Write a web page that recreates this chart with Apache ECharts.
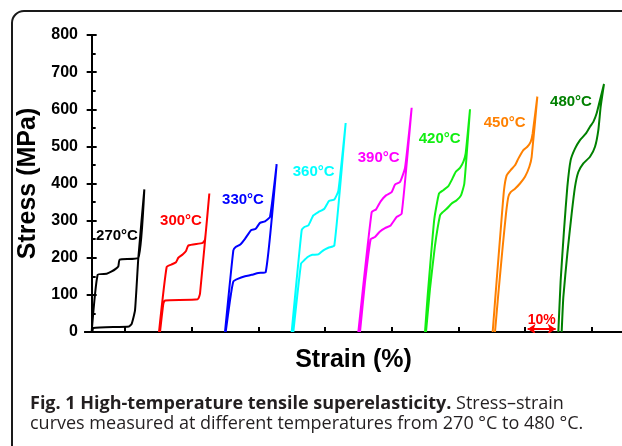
<!DOCTYPE html>
<html>
<head>
<meta charset="utf-8">
<script src="https://cdn.jsdelivr.net/npm/echarts@6.0.0/dist/echarts.min.js"></script>
<style>
  html, body { margin: 0; background: #fff; }
  #chart { width: 622px; height: 446px; }
</style>
</head>
<body>
<div id="chart"></div>
<script>
// temperatures, one loop each; loops are shifted 20 % apart along strain
const temps = ['270°C', '300°C', '330°C', '360°C', '390°C', '420°C', '450°C', '480°C']
const shifts = [0, 20, 40, 60, 80, 100, 120, 140]

// [strain %, stress MPa] relative to the start of each loop
const loading = [
  [[0, 0], [1.8, 154], [4.5, 157], [6.0, 163], [7.2, 170], [8.0, 177], [8.4, 195], [14.0, 200], [15.8, 384]],
  [[0.2, 0], [2.5, 175], [4.0, 182], [5.3, 188], [6.0, 200], [7.3, 209], [8.3, 218], [9.0, 233], [13.3, 240], [14.0, 249], [15.3, 373]],
  [[0, 0], [2.5, 220], [3.2, 229], [4.5, 235], [6.0, 251], [7.8, 274], [9.2, 278], [10.5, 294], [12.0, 298], [13.5, 310], [15.5, 452]],
  [[0, 0], [3.0, 274], [3.8, 283], [5.0, 287], [6.5, 314], [8.0, 323], [9.8, 332], [11.2, 353], [12.8, 357], [14.0, 380], [16.2, 563]],
  [[0, 0], [4.0, 323], [5.3, 330], [6.7, 352], [8.3, 368], [10.0, 377], [11.0, 397], [12.5, 404], [14.0, 442], [16.0, 604]],
  [[0, 0], [0.8, 98], [1.8, 206], [2.8, 305], [4.2, 373], [5.5, 382], [7.0, 393], [8.0, 409], [9.2, 431], [10.5, 442], [11.5, 458], [12.2, 481], [13.5, 600]],
  [[0.3, 0], [1.5, 139], [2.7, 274], [3.7, 382], [4.5, 422], [5.7, 436], [7.0, 449], [8.0, 467], [9.5, 490], [10.7, 499], [11.7, 512], [12.3, 535], [13.7, 634]],
  [[0, 0], [0.7, 139], [1.7, 274], [2.7, 391], [3.7, 463], [5.0, 494], [6.5, 517], [8.3, 535], [9.5, 553], [10.5, 566], [11.5, 589], [12.5, 625], [13.7, 668]]
]
const unloading = [
  [[14.0, 200], [13.0, 58], [12.0, 22], [11.2, 15], [0.5, 11], [0.2, 0]],
  [[12.5, 103], [11.8, 88], [2.0, 85], [1.5, 76], [0.5, 0]],
  [[12.2, 161], [10.0, 159], [8.0, 154], [6.0, 150], [4.0, 144], [2.5, 136], [1.5, 85], [0.2, 0]],
  [[12.8, 233], [11.0, 227], [9.5, 220], [8.0, 209], [6.2, 208], [4.8, 202], [3.5, 191], [2.8, 184], [0.5, 0]],
  [[13.0, 319], [11.5, 310], [9.7, 287], [8.0, 280], [6.5, 271], [5.0, 256], [3.7, 250], [2.0, 134], [0.5, 0]],
  [[11.8, 400], [10.8, 368], [9.5, 355], [8.0, 346], [6.5, 332], [5.2, 322], [4.5, 314], [3.0, 233], [1.5, 117], [0.3, 0]],
  [[12.0, 472], [11.3, 445], [10.0, 418], [8.5, 400], [7.0, 386], [5.7, 377], [5.0, 364], [4.3, 319], [3.3, 229], [2.0, 103], [1.0, 0]],
  [[12.7, 607], [12.0, 544], [11.0, 499], [9.5, 472], [7.5, 454], [6.0, 431], [5.0, 391], [4.0, 319], [2.7, 211], [1.5, 94], [1.0, 0]]
]

const yTicks = [0, 100, 200, 300, 400, 500, 600, 700, 800]
const xTicks = [10, 30, 50, 70, 90, 110, 130, 150]
const scaleBar = [130, 140] // the "10%" marker

const colors = ['#000000', '#ff0000', '#0000ff', '#00ffff', '#ff00ff', '#11ee11', '#ff8000', '#008000']
// where each temperature label sits, relative to its loop
const labelAt = [[7.6, 260], [6.8, 300], [5.4, 355], [6.6, 431], [6.1, 469], [4.4, 521], [3.9, 563], [3.8, 620]]

const FONT = '"Liberation Sans", Arial, sans-serif'

const loopSeries = temps.map((t, i) => {
  const pts = loading[i].concat(unloading[i]).map(([s, v]) => [s + shifts[i], v])
  return {
    name: t,
    type: 'line',
    data: pts,
    showSymbol: false,
    smooth: 0.15,
    lineStyle: { color: colors[i], width: 2 },
    itemStyle: { color: colors[i] },
    markPoint: {
      symbol: 'rect',
      symbolSize: 1,
      itemStyle: { color: 'rgba(0,0,0,0)' },
      label: {
        show: true,
        position: 'inside',
        formatter: t,
        color: colors[i],
        fontFamily: FONT,
        fontWeight: 'bold',
        fontSize: 15
      },
      data: [{ coord: [labelAt[i][0] + shifts[i], labelAt[i][1]] }]
    }
  }
})

const chart = echarts.init(document.getElementById('chart'))
chart.setOption({
  animation: false,
  backgroundColor: '#fff',
  grid: { left: 85, right: 0, top: 35, bottom: 114 },
  xAxis: [
    {
      type: 'value',
      min: -2,
      max: 159.1,
      name: 'Strain (%)',
      nameLocation: 'middle',
      nameGap: 16,
      nameTextStyle: { fontFamily: FONT, fontWeight: 'bold', fontSize: 25, color: '#000' },
      axisLine: { show: true, lineStyle: { color: '#000', width: 2 } },
      axisTick: { show: true, inside: true, length: 5, customValues: xTicks, lineStyle: { color: '#000', width: 2 } },
      axisLabel: { show: false },
      splitLine: { show: false }
    },
    {
      type: 'value',
      position: 'top',
      min: -2,
      max: 159.1,
      axisLine: { show: true, lineStyle: { color: '#000', width: 2 } },
      axisTick: { show: false },
      axisLabel: { show: false },
      splitLine: { show: false }
    }
  ],
  yAxis: [
    {
      type: 'value',
      min: yTicks[0],
      max: yTicks[yTicks.length - 1],
      interval: 100,
      name: 'Stress (MPa)',
      nameLocation: 'middle',
      nameGap: 42,
      nameTextStyle: { fontFamily: FONT, fontWeight: 'bold', fontSize: 25, color: '#000' },
      axisLine: { show: true, lineStyle: { color: '#000', width: 2 } },
      axisTick: { show: true, inside: true, length: 5, lineStyle: { color: '#000', width: 2 } },
      minorTick: { show: true, splitNumber: 2, length: 4, lineStyle: { color: '#000', width: 2 } },
      axisLabel: { margin: 7, fontFamily: FONT, fontWeight: 'bold', fontSize: 16, color: '#000' },
      splitLine: { show: false }
    },
    {
      type: 'value',
      min: yTicks[0],
      max: yTicks[yTicks.length - 1],
      interval: 100,
      position: 'left',
      axisLine: { show: false },
      axisTick: { show: true, inside: false, length: 5, lineStyle: { color: '#000', width: 2 } },
      axisLabel: { show: false },
      splitLine: { show: false }
    }
  ],
  series: loopSeries.concat([
    {
      name: '10%',
      type: 'lines',
      coordinateSystem: 'cartesian2d',
      symbol: ['arrow', 'arrow'],
      symbolSize: 8,
      z: 5,
      lineStyle: { color: '#ff0000', width: 2, opacity: 1 },
      label: {
        show: true,
        position: 'middle',
        distance: 2,
        formatter: '10%',
        color: '#ff0000',
        fontFamily: FONT,
        fontWeight: 'bold',
        fontSize: 14
      },
      data: [{ coords: [[scaleBar[0] + 0.8, 8], [scaleBar[1] - 0.8, 8]] }]
    }
  ]),
  graphic: [
    {
      type: 'rect',
      shape: { x: 12, y: 11, width: 700, height: 500, r: 12 },
      style: { fill: 'none', stroke: '#1a1a1a', lineWidth: 2 },
      silent: true
    },
    {
      type: 'text',
      left: 30,
      top: 394,
      style: {
        text: '{b|Fig. 1 High-temperature tensile superelasticity.} Stress–strain\ncurves measured at different temperatures from 270 °C to 480 °C.',
        font: '18px "Open Sans", sans-serif',
        fill: '#231f20',
        lineHeight: 20,
        rich: {
          b: { fontFamily: '"Open Sans", sans-serif', fontWeight: 'bold', fontSize: 18, fill: '#231f20', lineHeight: 20 }
        }
      }
    }
  ]
})
</script>
</body>
</html>
